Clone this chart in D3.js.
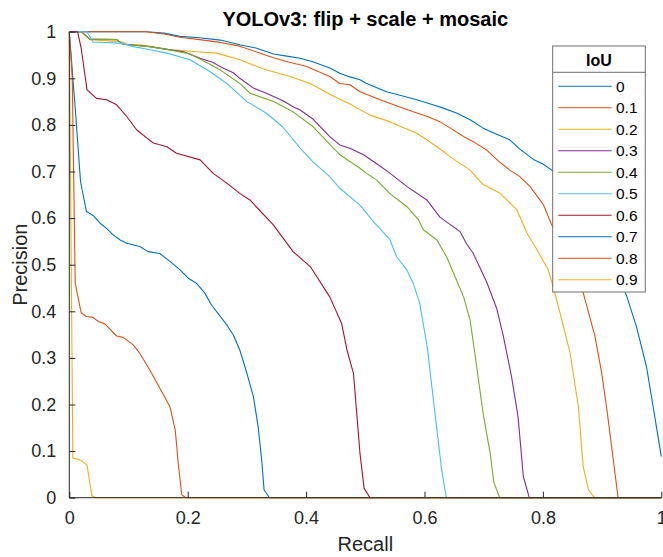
<!DOCTYPE html>
<html>
<head>
<meta charset="utf-8">
<script src="https://cdn.jsdelivr.net/npm/d3@7"></script>
<style>
  html, body { margin: 0; padding: 0; background: #fff; }
  svg { display: block; font-family: "Liberation Sans", Arial, Helvetica, sans-serif; }
</style>
</head>
<body>
<svg id="chart" width="663" height="557"></svg>
<script>
// Precision–recall curves, one per IoU threshold: [recall, precision]
const curveIoU00 = [[0,1],[0.13,1],[0.16,0.997],[0.187,0.99],[0.22,0.987],[0.255,0.982],[0.288,0.972],[0.315,0.965],[0.345,0.952],[0.37,0.947],[0.39,0.943],[0.41,0.936],[0.44,0.922],[0.457,0.911],[0.474,0.903],[0.491,0.897],[0.502,0.889],[0.536,0.871],[0.56,0.863],[0.587,0.854],[0.61,0.845],[0.632,0.836],[0.655,0.825],[0.677,0.811],[0.699,0.793],[0.72,0.781],[0.744,0.768],[0.761,0.748],[0.784,0.726],[0.80,0.716],[0.815,0.703],[0.85,0.66],[0.88,0.61],[0.91,0.54],[0.93,0.47],[0.942,0.431],[0.958,0.367],[0.975,0.281],[0.989,0.174],[1,0.088]];
const curveIoU01 = [[0,1],[0.13,1],[0.16,0.995],[0.187,0.988],[0.22,0.983],[0.255,0.977],[0.288,0.969],[0.32,0.955],[0.345,0.944],[0.37,0.935],[0.40,0.926],[0.44,0.904],[0.457,0.889],[0.474,0.886],[0.491,0.871],[0.525,0.854],[0.555,0.84],[0.581,0.828],[0.605,0.818],[0.626,0.807],[0.645,0.792],[0.666,0.775],[0.685,0.762],[0.705,0.746],[0.727,0.72],[0.744,0.703],[0.76,0.69],[0.778,0.668],[0.795,0.639],[0.801,0.628],[0.815,0.585],[0.84,0.53],[0.868,0.44],[0.888,0.346],[0.899,0.27],[0.908,0.19],[0.918,0.09],[0.927,0],[1,0]];
const curveIoU02 = [[0,1],[0.02,1],[0.035,0.983],[0.09,0.978],[0.10,0.972],[0.12,0.972],[0.165,0.962],[0.215,0.957],[0.249,0.954],[0.288,0.94],[0.328,0.92],[0.373,0.904],[0.407,0.889],[0.44,0.866],[0.474,0.845],[0.508,0.821],[0.541,0.807],[0.587,0.782],[0.604,0.768],[0.632,0.743],[0.643,0.732],[0.677,0.703],[0.699,0.672],[0.727,0.654],[0.739,0.639],[0.756,0.618],[0.773,0.568],[0.79,0.532],[0.809,0.489],[0.818,0.45],[0.832,0.381],[0.846,0.31],[0.86,0.195],[0.868,0.067],[0.877,0.017],[0.887,0],[1,0]];
const curveIoU03 = [[0,1],[0.02,1],[0.035,0.984],[0.08,0.983],[0.091,0.973],[0.136,0.968],[0.165,0.962],[0.193,0.957],[0.221,0.943],[0.243,0.934],[0.255,0.925],[0.277,0.912],[0.288,0.9],[0.311,0.879],[0.333,0.868],[0.345,0.861],[0.361,0.852],[0.378,0.839],[0.39,0.832],[0.412,0.812],[0.44,0.775],[0.457,0.757],[0.474,0.75],[0.497,0.736],[0.52,0.716],[0.542,0.696],[0.57,0.668],[0.604,0.639],[0.626,0.602],[0.66,0.571],[0.671,0.545],[0.682,0.525],[0.705,0.463],[0.722,0.406],[0.733,0.348],[0.747,0.26],[0.758,0.174],[0.767,0.045],[0.777,0],[1,0]];
const curveIoU04 = [[0,1],[0.02,1],[0.035,0.984],[0.08,0.983],[0.091,0.973],[0.136,0.968],[0.165,0.962],[0.204,0.952],[0.232,0.934],[0.255,0.918],[0.288,0.889],[0.305,0.868],[0.345,0.85],[0.378,0.828],[0.412,0.796],[0.446,0.75],[0.457,0.736],[0.491,0.707],[0.502,0.696],[0.519,0.682],[0.541,0.653],[0.57,0.625],[0.59,0.596],[0.598,0.575],[0.621,0.553],[0.638,0.515],[0.649,0.482],[0.666,0.431],[0.677,0.381],[0.685,0.31],[0.699,0.181],[0.711,0.095],[0.717,0.034],[0.727,0],[1,0]];
const curveIoU05 = [[0,1],[0.03,1],[0.04,0.978],[0.09,0.975],[0.108,0.968],[0.13,0.963],[0.165,0.954],[0.204,0.94],[0.238,0.914],[0.266,0.889],[0.3,0.85],[0.333,0.825],[0.361,0.795],[0.39,0.75],[0.412,0.72],[0.44,0.689],[0.457,0.664],[0.491,0.628],[0.514,0.592],[0.541,0.555],[0.553,0.517],[0.57,0.489],[0.581,0.46],[0.592,0.417],[0.605,0.32],[0.615,0.21],[0.623,0.124],[0.629,0.059],[0.637,0],[1,0]];
const curveIoU06 = [[0,1],[0.014,1],[0.02,0.965],[0.03,0.875],[0.046,0.857],[0.063,0.854],[0.08,0.843],[0.097,0.818],[0.114,0.789],[0.142,0.761],[0.165,0.753],[0.181,0.739],[0.221,0.725],[0.243,0.696],[0.266,0.675],[0.288,0.653],[0.305,0.639],[0.345,0.585],[0.378,0.528],[0.407,0.496],[0.44,0.431],[0.46,0.374],[0.469,0.317],[0.48,0.267],[0.486,0.174],[0.491,0.095],[0.498,0.02],[0.508,0],[1,0]];
const curveIoU07 = [[0,1],[0.01,0.836],[0.019,0.678],[0.029,0.614],[0.041,0.605],[0.052,0.589],[0.063,0.578],[0.074,0.564],[0.086,0.553],[0.097,0.546],[0.119,0.539],[0.133,0.528],[0.153,0.524],[0.17,0.507],[0.187,0.489],[0.201,0.471],[0.215,0.46],[0.229,0.439],[0.24,0.414],[0.255,0.389],[0.266,0.371],[0.277,0.349],[0.288,0.317],[0.3,0.267],[0.311,0.217],[0.319,0.152],[0.325,0.081],[0.329,0.017],[0.338,0],[1,0]];
const curveIoU08 = [[0,1],[0.005,0.9],[0.01,0.46],[0.02,0.397],[0.029,0.389],[0.04,0.387],[0.049,0.378],[0.06,0.373],[0.08,0.347],[0.091,0.344],[0.108,0.328],[0.119,0.31],[0.136,0.274],[0.153,0.235],[0.17,0.195],[0.179,0.145],[0.184,0.074],[0.19,0.006],[0.197,0],[1,0]];
const curveIoU09 = [[0,1],[0.006,0.085],[0.013,0.083],[0.02,0.08],[0.03,0.07],[0.038,0.004],[0.045,0],[1,0]];

const iouLabels = ["0", "0.1", "0.2", "0.3", "0.4", "0.5", "0.6", "0.7", "0.8", "0.9"];
const curves = [curveIoU00, curveIoU01, curveIoU02, curveIoU03, curveIoU04, curveIoU05, curveIoU06, curveIoU07, curveIoU08, curveIoU09];
const lineColors = ["#0072BD", "#D95319", "#EDB120", "#7E2F8E", "#77AC30", "#4DBEEE", "#A2142F", "#0072BD", "#D95319", "#EDB120"];
const tickValues = [0, 0.1, 0.2, 0.3, 0.4, 0.5, 0.6, 0.7, 0.8, 0.9, 1];
const xTickValues = [0, 0.2, 0.4, 0.6, 0.8, 1];

const titleText = "YOLOv3: flip + scale + mosaic";
const xLabel = "Recall";
const yLabel = "Precision";
const legendTitle = "IoU";

const svg = d3.select("#chart");
const plot = { left: 69.3, right: 661.3, top: 31.7, bottom: 497.7 };
const axisColor = "#262626";

const x = d3.scaleLinear().domain([0, 1]).range([plot.left, plot.right]);
const y = d3.scaleLinear().domain([0, 1]).range([plot.bottom, plot.top]);

// Curves
const line = d3.line().x(d => x(d[0])).y(d => y(d[1]));
svg.append("g").selectAll("path")
  .data(curves)
  .join("path")
  .attr("d", line)
  .attr("fill", "none")
  .attr("stroke", (d, i) => lineColors[i])
  .attr("stroke-width", 1.1)
  .attr("stroke-linejoin", "round");

// Axes with inward ticks
const xAxis = d3.axisBottom(x).tickValues(xTickValues).tickSize(-6).tickPadding(14)
  .tickFormat(d3.format("~g"));
const yAxis = d3.axisLeft(y).tickValues(tickValues).tickSize(-6).tickPadding(13)
  .tickFormat(d3.format("~g"));

const gx = svg.append("g").attr("transform", `translate(0,${plot.bottom})`).call(xAxis);
const gy = svg.append("g").attr("transform", `translate(${plot.left},0)`).call(yAxis);
[gx, gy].forEach(g => {
  g.select(".domain").attr("stroke", axisColor).attr("stroke-width", 1);
  g.selectAll(".tick line").attr("stroke", axisColor).attr("stroke-width", 1);
  g.selectAll(".tick text").attr("fill", axisColor)
    .style("font-family", '"Liberation Sans", Arial, sans-serif').style("font-size", "18px");
});
gx.select(".domain").attr("d", `M${plot.left},0H${plot.right}`);
gy.select(".domain").attr("d", `M0,${plot.bottom}V${plot.top}`);

// Title and axis labels
svg.append("text")
  .attr("x", (plot.left + plot.right) / 2).attr("y", 26)
  .attr("text-anchor", "middle")
  .style("font-size", "20px").style("font-weight", "bold").attr("fill", "#000")
  .text(titleText);
svg.append("text")
  .attr("x", (plot.left + plot.right) / 2).attr("y", 550.5)
  .attr("text-anchor", "middle")
  .style("font-size", "20px").attr("fill", axisColor)
  .text(xLabel);
svg.append("text")
  .attr("transform", `translate(26.5,${(plot.top + plot.bottom) / 2}) rotate(-90)`)
  .attr("text-anchor", "middle")
  .style("font-size", "20px").attr("fill", axisColor)
  .text(yLabel);

// Legend
const lg = { left: 552.7, right: 645.3, top: 46, bottom: 292, header: 72.3, firstRow: 86.2, rowStep: 21.5 };
const legend = svg.append("g");
legend.append("rect")
  .attr("x", lg.left).attr("y", lg.top)
  .attr("width", lg.right - lg.left).attr("height", lg.bottom - lg.top)
  .attr("fill", "#fff").attr("stroke", "#6e6e6e").attr("stroke-width", 1);
legend.append("line")
  .attr("x1", lg.left).attr("x2", lg.right).attr("y1", lg.header).attr("y2", lg.header)
  .attr("stroke", "#6e6e6e").attr("stroke-width", 1);
legend.append("text")
  .attr("x", (lg.left + lg.right) / 2).attr("y", 66)
  .attr("text-anchor", "middle")
  .style("font-size", "16px").style("font-weight", "bold").attr("fill", "#000")
  .text(legendTitle);
const rows = legend.selectAll("g.row")
  .data(iouLabels)
  .join("g")
  .attr("class", "row")
  .attr("transform", (d, i) => `translate(0,${lg.firstRow + i * lg.rowStep})`);
rows.append("line")
  .attr("x1", 558.3).attr("x2", 611.7)
  .attr("stroke", (d, i) => lineColors[i]).attr("stroke-width", 1.1);
rows.append("text")
  .attr("x", 616).attr("y", 5.6)
  .style("font-size", "15.5px").attr("fill", "#000")
  .text(d => d);
</script>
</body>
</html>
